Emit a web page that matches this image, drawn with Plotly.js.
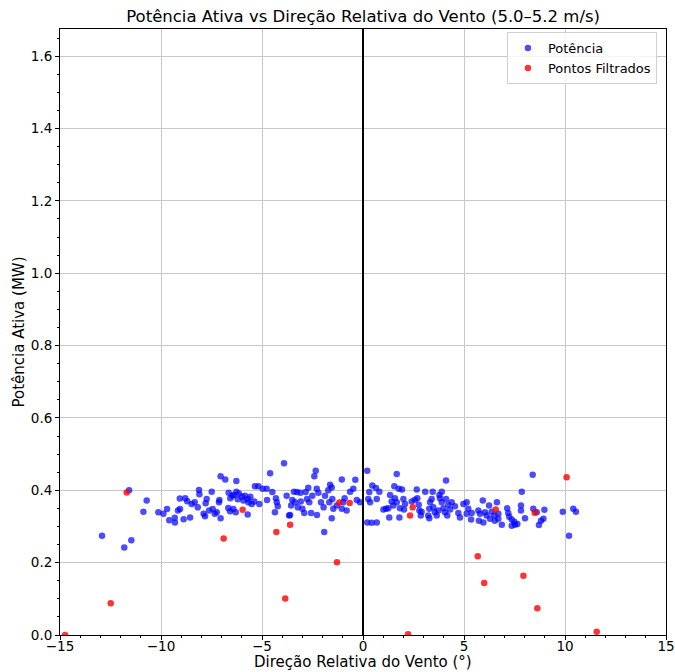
<!DOCTYPE html>
<html>
<head>
<meta charset="utf-8">
<script src="https://cdn.plot.ly/plotly-3.0.1.min.js"></script>
<style>html,body{margin:0;padding:0;background:#fff;}#chart{width:675px;height:672px;}</style>
</head>
<body>
<div id="chart"></div>
<script>
const potX = [-11.58,-10.71,-10.87,-12.92,-11.47,-11.82,-10.13,-9.88,-9.70,-9.59,-9.31,-9.32,-9.16,-9.06,-9.07,-8.88,-8.80,-8.70,-8.56,-8.48,-8.33,-8.18,-8.12,-8.10,-7.74,-7.79,-7.89,-7.82,-7.62,-7.49,-7.44,-7.34,
-7.05,-6.82,-6.27,-7.11,-7.13,-7.24,-7.05,-6.65,-6.67,-6.57,-6.47,-6.39,-6.27,-6.20,-6.14,-6.58,-6.42,-6.30,-6.00,-5.92,-5.84,-5.71,-5.68,-5.58,-5.71,-5.51,-5.38,-5.35,-5.18,-5.13,-4.77,-4.97,-4.60,-3.91,-4.75,-4.49,-4.31,-4.27,-4.22,-4.36,-3.78,-3.66,-3.56,-3.50,-3.42,-3.37,-3.27,-3.23,-3.10,-3.08,-3.00,-2.91,-2.84,-2.77,-2.71,-2.66,-2.57,-2.51,-2.34,-2.41,-2.29,-2.21,-2.28,-2.08,-1.95,-1.88,-1.72,-1.63,-1.55,-1.67,-1.52,-1.47,-1.30,-1.55,-1.92,-3.61,
-1.05,-0.38,-0.48,-0.64,-0.91,-0.98,-1.05,-0.81,-0.31,-0.15,0.21,0.31,0.35,0.26,0.21,0.43,0.68,0.46,0.64,0.81,0.68,1.01,1.14,1.25,1.30,1.34,1.42,1.50,1.58,1.67,1.55,1.67,1.77,1.93,1.80,1.83,2.00,2.08,2.03,2.41,2.57,2.66,2.69,2.76,2.79,2.90,2.86,3.08,3.32,3.40,3.28,3.23,3.28,3.45,3.48,3.56,3.65,3.73,3.78,3.81,3.90,3.90,3.98,4.11,4.11,4.06,4.17,4.22,4.31,4.39,4.55,4.72,4.80,4.97,
5.13,5.21,5.13,5.38,5.35,5.71,5.79,5.74,5.93,5.96,6.04,6.12,6.24,6.29,6.37,6.50,6.53,6.63,6.70,6.70,6.87,7.14,7.19,7.24,7.36,7.36,7.49,7.52,7.64,7.82,7.86,7.82,8.02,8.40,8.43,8.60,8.71,8.81,8.93,8.98,9.89,10.41,10.54,10.20];
const potY = [0.400,0.372,0.341,0.274,0.262,0.242,0.339,0.335,0.348,0.317,0.311,0.324,0.344,0.348,0.377,0.320,0.378,0.370,0.325,0.362,0.367,0.353,0.401,0.389,0.376,0.364,0.335,0.328,0.344,0.396,0.348,0.335,
0.439,0.430,0.426,0.373,0.367,0.339,0.323,0.393,0.351,0.378,0.385,0.387,0.396,0.375,0.391,0.342,0.348,0.339,0.383,0.372,0.385,0.376,0.367,0.382,0.333,0.362,0.369,0.411,0.411,0.362,0.404,0.404,0.447,0.475,0.373,0.395,0.378,0.367,0.356,0.339,0.385,0.330,0.358,0.373,0.396,0.367,0.395,0.353,0.393,0.369,0.349,0.337,0.395,0.376,0.407,0.367,0.337,0.385,0.454,0.439,0.404,0.393,0.332,0.367,0.353,0.385,0.400,0.415,0.408,0.367,0.376,0.349,0.358,0.323,0.285,0.332,
0.430,0.429,0.404,0.396,0.378,0.367,0.349,0.344,0.373,0.367,0.454,0.395,0.367,0.376,0.311,0.310,0.311,0.413,0.406,0.396,0.376,0.347,0.349,0.350,0.325,0.387,0.369,0.358,0.378,0.445,0.411,0.367,0.404,0.402,0.325,0.350,0.376,0.362,0.347,0.369,0.374,0.402,0.378,0.360,0.344,0.341,0.330,0.396,0.367,0.376,0.349,0.330,0.323,0.396,0.353,0.339,0.330,0.344,0.387,0.378,0.396,0.367,0.350,0.427,0.376,0.339,0.330,0.360,0.347,0.367,0.356,0.337,0.325,0.362,
0.367,0.349,0.335,0.337,0.319,0.344,0.335,0.316,0.372,0.311,0.339,0.330,0.358,0.321,0.341,0.330,0.316,0.367,0.335,0.321,0.305,0.350,0.337,0.327,0.319,0.302,0.313,0.305,0.307,0.358,0.396,0.344,0.323,0.443,0.349,0.339,0.304,0.316,0.321,0.346,0.341,0.349,0.341,0.274];
const filtX = [-14.75,-12.49,-6.90,-4.29,-3.61,-3.85,-1.29,2.23,5.68,6.00,7.94,8.63,11.57,-11.70,-5.96,-1.17,-0.66,2.46,2.33,6.57,8.50,10.08];
const filtY = [0.000,0.088,0.267,0.285,0.305,0.101,0.201,0.002,0.218,0.144,0.164,0.074,0.009,0.394,0.346,0.366,0.365,0.353,0.330,0.347,0.338,0.436];
const titleText = 'Potência Ativa vs Direção Relativa do Vento (5.0–5.2 m/s)';
const xTitle = 'Direção Relativa do Vento (°)';
const yTitle = 'Potência Ativa (MW)';

const font = 'DejaVu Sans, sans-serif';
const traces = [
  {x: potX, y: potY, type: 'scatter', mode: 'markers', name: 'Potência',
   marker: {color: 'rgba(0,0,255,0.7)', size: 6.5, line: {width: 0}}},
  {x: filtX, y: filtY, type: 'scatter', mode: 'markers', name: 'Pontos Filtrados',
   marker: {color: 'rgba(255,0,0,0.8)', size: 6.5, line: {width: 0}}}
];
const axisCommon = {
  showline: true, linecolor: '#000', linewidth: 1, mirror: true,
  ticks: 'outside', ticklen: 4, tickwidth: 1, tickcolor: '#000',
  showgrid: true, gridcolor: '#c8c8c8', gridwidth: 1, zeroline: false,
  tickfont: {family: font, size: 13.5, color: '#000'}
};
const layout = {
  width: 675, height: 672,
  margin: {l: 60, r: 9, t: 29, b: 37},
  paper_bgcolor: '#fff', plot_bgcolor: '#fff',
  font: {family: font, color: '#000'},
  title: {text: titleText, font: {family: font, size: 16.5, color: '#000'},
          x: 0.538, xanchor: 'center', xref: 'container', y: 1 - 16/672, yref: 'container', yanchor: 'middle'},
  xaxis: Object.assign({}, axisCommon, {
    range: [-15, 15], tickmode: 'linear', tick0: -15, dtick: 5, ticklabelstandoff: -5,
    minor: {ticks: 'outside', dtick: 1, ticklen: 2, tickcolor: '#000', showgrid: false},
    title: {text: ''}
  }),
  yaxis: Object.assign({}, axisCommon, {
    range: [0, 1.675], tickmode: 'linear', tick0: 0, dtick: 0.2, tickformat: '.1f',
    minor: {ticks: 'outside', dtick: 0.05, ticklen: 2, tickcolor: '#000', showgrid: false},
    title: {text: yTitle, font: {family: font, size: 15, color: '#000'}, standoff: 2}
  }),
  annotations: [{text: xTitle, xref: 'paper', yref: 'paper', x: 0.5, y: -(662 - 635) / 606,
                 xanchor: 'center', yanchor: 'middle', showarrow: false,
                 font: {family: font, size: 15, color: '#000'}}],
  shapes: [{type: 'line', xref: 'x', yref: 'paper', x0: 0, x1: 0, y0: 0, y1: 1,
            line: {color: '#000', width: 2}}],
  legend: {x: 0.985, y: 0.995, xanchor: 'right', yanchor: 'top',
           bgcolor: 'rgba(255,255,255,0.8)', bordercolor: '#d0d0d0', borderwidth: 1,
           font: {family: font, size: 13, color: '#000'}},
  showlegend: true
};
Plotly.newPlot('chart', traces, layout, {displayModeBar: false, staticPlot: true});
</script>
</body>
</html>
